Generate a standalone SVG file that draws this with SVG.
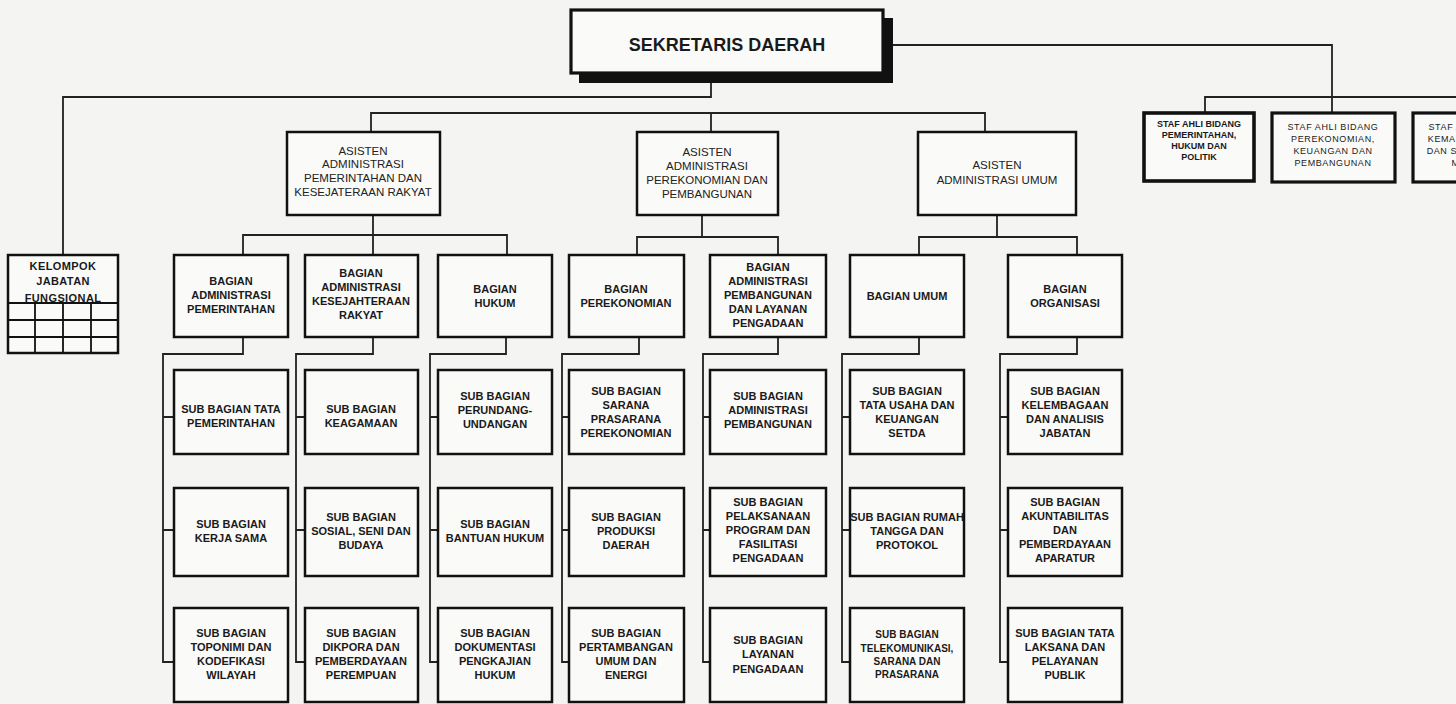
<svg xmlns="http://www.w3.org/2000/svg" width="1456" height="704" viewBox="0 0 1456 704">
<style>
.bg{fill:#f4f4f2}
.box{fill:#fafaf9;stroke:#111;stroke-width:2.5}
.thick{stroke-width:3.2}
.line{fill:none;stroke:#222;stroke-width:1.8}
.grid{fill:none;stroke:#111;stroke-width:1.8}
text{font-family:"Liberation Sans",Arial,sans-serif;text-anchor:middle;fill:#1a1a1a}
.t{font-size:11px;font-weight:bold}
.a{font-size:11.5px;font-weight:normal;fill:#222}
.s{font-size:10px;font-weight:bold}
.k{font-size:11px;font-weight:bold;letter-spacing:0.4px}
.st1{font-size:9px;font-weight:bold}
.st2{font-size:9px;font-weight:normal;letter-spacing:0.6px}
.big{font-size:18px;font-weight:bold}
</style>
<rect class="bg" x="0" y="0" width="1456" height="704"/>

<g id="connectors">
  <path class="line" d="M711 73 V97 H63 V255"/>
  <path class="line" d="M893 45 H1332 V113"/>
  <path class="line" d="M1205 113 V97 H1456"/>
  <path class="line" d="M371 132 V113 H985 V132 M711 113 V132"/>
  <path class="line" d="M373 215 V255 M243 255 V235 H507 V255"/>
  <path class="line" d="M702 215 V237 M637 255 V237 H778 V255"/>
  <path class="line" d="M997 215 V237 M919 255 V237 H1077 V255"/>
  <path class="line" d="M243 337 V354 H163 V662 H174 M163 417 H174 M163 530 H174"/>
  <path class="line" d="M373 337 V354 H296 V662 H305 M296 417 H305 M296 530 H305"/>
  <path class="line" d="M506 337 V354 H430 V662 H438 M430 417 H438 M430 530 H438"/>
  <path class="line" d="M639 337 V354 H562 V662 H569 M562 417 H569 M562 530 H569"/>
  <path class="line" d="M778 337 V354 H703 V662 H710 M703 417 H710 M703 530 H710"/>
  <path class="line" d="M919 337 V354 H842 V662 H850 M842 417 H850 M842 530 H850"/>
  <path class="line" d="M1077 337 V354 H1000 V662 H1008 M1000 417 H1008 M1000 530 H1008"/>
</g>

<g id="sekretaris-daerah">
  <rect x="579" y="18" width="314" height="65" fill="#111"/>
  <rect class="box thick" x="571" y="10" width="312" height="63"/>
  <text class="big" x="727" y="51">SEKRETARIS DAERAH</text>
</g>

<g id="staf-ahli-1">
  <rect class="box" style="stroke-width:3.6" x="1144" y="113" width="110" height="68"/>
  <text class="st1" x="1199" y="127">STAF AHLI BIDANG</text>
  <text class="st1" x="1199" y="138">PEMERINTAHAN,</text>
  <text class="st1" x="1199" y="149">HUKUM DAN</text>
  <text class="st1" x="1199" y="160">POLITIK</text>
</g>
<g id="staf-ahli-2">
  <rect class="box thick" x="1272" y="113" width="123" height="69"/>
  <text class="st2" x="1333" y="130">STAF AHLI BIDANG</text>
  <text class="st2" x="1333" y="142">PEREKONOMIAN,</text>
  <text class="st2" x="1333" y="154">KEUANGAN DAN</text>
  <text class="st2" x="1333" y="166">PEMBANGUNAN</text>
</g>
<g id="staf-ahli-3">
  <rect class="box thick" x="1413" y="113" width="123" height="69"/>
  <text class="st2" x="1474" y="130">STAF AHLI BIDANG</text>
  <text class="st2" x="1474" y="142">KEMASYARAKATAN</text>
  <text class="st2" x="1474" y="154">DAN SUMBER DAYA</text>
  <text class="st2" x="1474" y="166">MANUSIA</text>
</g>

<g id="kelompok-jabatan-fungsional">
  <rect class="box" x="8" y="255" width="110" height="98"/>
  <path class="grid" d="M8 303 H118 M8 320 H118 M8 337 H118 M35 303 V353 M63 303 V353 M91 303 V353"/>
  <text class="k" x="63" y="270">KELOMPOK</text>
  <text class="k" x="63" y="285">JABATAN</text>
  <text class="k" x="63" y="302">FUNGSIONAL</text>
</g>

<g id="asisten-1">
  <rect class="box" x="287" y="132" width="153" height="83"/>
  <text class="a" x="363" y="155">ASISTEN</text>
  <text class="a" x="363" y="168">ADMINISTRASI</text>
  <text class="a" x="363" y="182">PEMERINTAHAN DAN</text>
  <text class="a" x="363" y="196">KESEJATERAAN RAKYAT</text>
</g>
<g id="asisten-2">
  <rect class="box" x="637" y="132" width="141" height="83"/>
  <text class="a" x="707" y="156">ASISTEN</text>
  <text class="a" x="707" y="170">ADMINISTRASI</text>
  <text class="a" x="707" y="184">PEREKONOMIAN DAN</text>
  <text class="a" x="707" y="198">PEMBANGUNAN</text>
</g>
<g id="asisten-3">
  <rect class="box" x="918" y="132" width="158" height="83"/>
  <text class="a" x="997" y="169">ASISTEN</text>
  <text class="a" x="997" y="184">ADMINISTRASI UMUM</text>
</g>

<g id="bagian-adm-pemerintahan">
  <rect class="box" x="174" y="255" width="114" height="82"/>
  <text class="t" x="231" y="285">BAGIAN</text>
  <text class="t" x="231" y="299">ADMINISTRASI</text>
  <text class="t" x="231" y="313">PEMERINTAHAN</text>
</g>
<g id="bagian-adm-kesra">
  <rect class="box" x="305" y="255" width="113" height="82"/>
  <text class="t" x="361" y="277">BAGIAN</text>
  <text class="t" x="361" y="291">ADMINISTRASI</text>
  <text class="t" x="361" y="305">KESEJAHTERAAN</text>
  <text class="t" x="361" y="319">RAKYAT</text>
</g>
<g id="bagian-hukum">
  <rect class="box" x="438" y="255" width="114" height="82"/>
  <text class="t" x="495" y="293">BAGIAN</text>
  <text class="t" x="495" y="307">HUKUM</text>
</g>
<g id="bagian-perekonomian">
  <rect class="box" x="569" y="255" width="115" height="82"/>
  <text class="t" x="626" y="293">BAGIAN</text>
  <text class="t" x="626" y="307">PEREKONOMIAN</text>
</g>
<g id="bagian-adm-pembangunan">
  <rect class="box" x="710" y="255" width="116" height="82"/>
  <text class="t" x="768" y="271">BAGIAN</text>
  <text class="t" x="768" y="285">ADMINISTRASI</text>
  <text class="t" x="768" y="299">PEMBANGUNAN</text>
  <text class="t" x="768" y="313">DAN LAYANAN</text>
  <text class="t" x="768" y="327">PENGADAAN</text>
</g>
<g id="bagian-umum">
  <rect class="box" x="850" y="255" width="114" height="82"/>
  <text class="t" x="907" y="300">BAGIAN UMUM</text>
</g>
<g id="bagian-organisasi">
  <rect class="box" x="1008" y="255" width="114" height="82"/>
  <text class="t" x="1065" y="293">BAGIAN</text>
  <text class="t" x="1065" y="307">ORGANISASI</text>
</g>

<g id="sub-tata-pemerintahan">
  <rect class="box" x="174" y="370" width="114" height="84"/>
  <text class="t" x="231" y="413">SUB BAGIAN TATA</text>
  <text class="t" x="231" y="427">PEMERINTAHAN</text>
</g>
<g id="sub-keagamaan">
  <rect class="box" x="305" y="370" width="113" height="84"/>
  <text class="t" x="361" y="413">SUB BAGIAN</text>
  <text class="t" x="361" y="427">KEAGAMAAN</text>
</g>
<g id="sub-perundang-undangan">
  <rect class="box" x="438" y="370" width="114" height="84"/>
  <text class="t" x="495" y="400">SUB BAGIAN</text>
  <text class="t" x="495" y="414">PERUNDANG-</text>
  <text class="t" x="495" y="428">UNDANGAN</text>
</g>
<g id="sub-sarana-prasarana-perekonomian">
  <rect class="box" x="569" y="370" width="115" height="84"/>
  <text class="t" x="626" y="395">SUB BAGIAN</text>
  <text class="t" x="626" y="409">SARANA</text>
  <text class="t" x="626" y="423">PRASARANA</text>
  <text class="t" x="626" y="437">PEREKONOMIAN</text>
</g>
<g id="sub-administrasi-pembangunan">
  <rect class="box" x="710" y="370" width="116" height="84"/>
  <text class="t" x="768" y="400">SUB BAGIAN</text>
  <text class="t" x="768" y="414">ADMINISTRASI</text>
  <text class="t" x="768" y="428">PEMBANGUNAN</text>
</g>
<g id="sub-tata-usaha-keuangan">
  <rect class="box" x="850" y="370" width="114" height="84"/>
  <text class="t" x="907" y="395">SUB BAGIAN</text>
  <text class="t" x="907" y="409">TATA USAHA  DAN</text>
  <text class="t" x="907" y="423">KEUANGAN</text>
  <text class="t" x="907" y="437">SETDA</text>
</g>
<g id="sub-kelembagaan">
  <rect class="box" x="1008" y="370" width="114" height="84"/>
  <text class="t" x="1065" y="395">SUB BAGIAN</text>
  <text class="t" x="1065" y="409">KELEMBAGAAN</text>
  <text class="t" x="1065" y="423">DAN ANALISIS</text>
  <text class="t" x="1065" y="437">JABATAN</text>
</g>

<g id="sub-kerja-sama">
  <rect class="box" x="174" y="488" width="114" height="88"/>
  <text class="t" x="231" y="528">SUB BAGIAN</text>
  <text class="t" x="231" y="542">KERJA SAMA</text>
</g>
<g id="sub-sosial-seni-budaya">
  <rect class="box" x="305" y="488" width="113" height="88"/>
  <text class="t" x="361" y="521">SUB BAGIAN</text>
  <text class="t" x="361" y="535">SOSIAL, SENI DAN</text>
  <text class="t" x="361" y="549">BUDAYA</text>
</g>
<g id="sub-bantuan-hukum">
  <rect class="box" x="438" y="488" width="114" height="88"/>
  <text class="t" x="495" y="528">SUB BAGIAN</text>
  <text class="t" x="495" y="542">BANTUAN HUKUM</text>
</g>
<g id="sub-produksi-daerah">
  <rect class="box" x="569" y="488" width="115" height="88"/>
  <text class="t" x="626" y="521">SUB BAGIAN</text>
  <text class="t" x="626" y="535">PRODUKSI</text>
  <text class="t" x="626" y="549">DAERAH</text>
</g>
<g id="sub-pelaksanaan-program">
  <rect class="box" x="710" y="488" width="116" height="88"/>
  <text class="t" x="768" y="506">SUB BAGIAN</text>
  <text class="t" x="768" y="520">PELAKSANAAN</text>
  <text class="t" x="768" y="534">PROGRAM DAN</text>
  <text class="t" x="768" y="548">FASILITASI</text>
  <text class="t" x="768" y="562">PENGADAAN</text>
</g>
<g id="sub-rumah-tangga">
  <rect class="box" x="850" y="488" width="114" height="88"/>
  <text class="t" x="907" y="521">SUB BAGIAN RUMAH</text>
  <text class="t" x="907" y="535">TANGGA DAN</text>
  <text class="t" x="907" y="549">PROTOKOL</text>
</g>
<g id="sub-akuntabilitas">
  <rect class="box" x="1008" y="488" width="114" height="88"/>
  <text class="t" x="1065" y="506">SUB BAGIAN</text>
  <text class="t" x="1065" y="520">AKUNTABILITAS</text>
  <text class="t" x="1065" y="534">DAN</text>
  <text class="t" x="1065" y="548">PEMBERDAYAAN</text>
  <text class="t" x="1065" y="562">APARATUR</text>
</g>

<g id="sub-toponimi">
  <rect class="box" x="174" y="608" width="114" height="94"/>
  <text class="t" x="231" y="637">SUB BAGIAN</text>
  <text class="t" x="231" y="651">TOPONIMI DAN</text>
  <text class="t" x="231" y="665">KODEFIKASI</text>
  <text class="t" x="231" y="679">WILAYAH</text>
</g>
<g id="sub-dikpora">
  <rect class="box" x="305" y="608" width="113" height="94"/>
  <text class="t" x="361" y="637">SUB BAGIAN</text>
  <text class="t" x="361" y="651">DIKPORA DAN</text>
  <text class="t" x="361" y="665">PEMBERDAYAAN</text>
  <text class="t" x="361" y="679">PEREMPUAN</text>
</g>
<g id="sub-dokumentasi">
  <rect class="box" x="438" y="608" width="114" height="94"/>
  <text class="t" x="495" y="637">SUB BAGIAN</text>
  <text class="t" x="495" y="651">DOKUMENTASI</text>
  <text class="t" x="495" y="665">PENGKAJIAN</text>
  <text class="t" x="495" y="679">HUKUM</text>
</g>
<g id="sub-pertambangan">
  <rect class="box" x="569" y="608" width="115" height="94"/>
  <text class="t" x="626" y="637">SUB BAGIAN</text>
  <text class="t" x="626" y="651">PERTAMBANGAN</text>
  <text class="t" x="626" y="665">UMUM DAN</text>
  <text class="t" x="626" y="679">ENERGI</text>
</g>
<g id="sub-layanan-pengadaan">
  <rect class="box" x="710" y="608" width="116" height="94"/>
  <text class="t" x="768" y="644">SUB BAGIAN</text>
  <text class="t" x="768" y="658">LAYANAN</text>
  <text class="t" x="768" y="673">PENGADAAN</text>
</g>
<g id="sub-telekomunikasi">
  <rect class="box" x="850" y="608" width="114" height="94"/>
  <text class="s" x="907" y="638">SUB BAGIAN</text>
  <text class="s" x="907" y="652">TELEKOMUNIKASI,</text>
  <text class="s" x="907" y="665">SARANA DAN</text>
  <text class="s" x="907" y="678">PRASARANA</text>
</g>
<g id="sub-tata-laksana">
  <rect class="box" x="1008" y="608" width="114" height="94"/>
  <text class="t" x="1065" y="637">SUB BAGIAN TATA</text>
  <text class="t" x="1065" y="651">LAKSANA DAN</text>
  <text class="t" x="1065" y="665">PELAYANAN</text>
  <text class="t" x="1065" y="679">PUBLIK</text>
</g>
</svg>
